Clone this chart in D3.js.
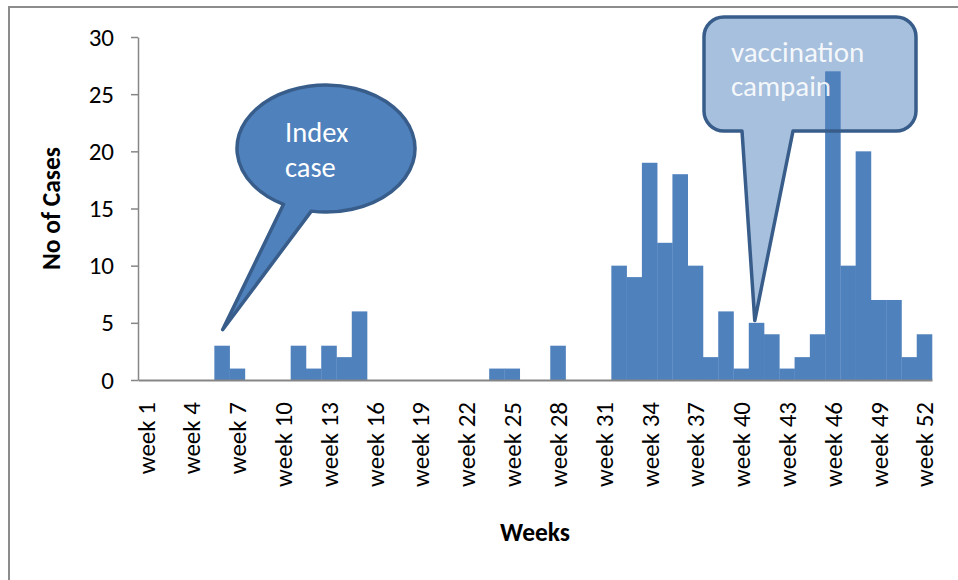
<!DOCTYPE html>
<html>
<head>
<meta charset="utf-8">
<script src="https://cdn.jsdelivr.net/npm/d3@7/dist/d3.min.js"></script>
<style>
  body { margin: 0; background: #fff; }
  text { font-family: Calibri, Carlito, Lato, sans-serif; }
</style>
</head>
<body>
<div id="chart"></div>
<script>
// weekly cases
var weeks = [1, 2, 3, 4, 5, 6, 7, 8, 9, 10, 11, 12, 13, 14, 15, 16, 17, 18, 19, 20,
  21, 22, 23, 24, 25, 26, 27, 28, 29, 30, 31, 32, 33, 34, 35, 36, 37, 38, 39, 40,
  41, 42, 43, 44, 45, 46, 47, 48, 49, 50, 51, 52];
var cases = [0, 0, 0, 0, 0, 3, 1, 0, 0, 0, 3, 1, 3, 2, 6, 0, 0, 0, 0, 0,
  0, 0, 0, 1, 1, 0, 0, 3, 0, 0, 0, 10, 9, 19, 12, 18, 10, 2, 6, 1,
  5, 4, 1, 2, 4, 27, 10, 20, 7, 7, 2, 4];
var labelWeeks = [1, 4, 7, 10, 13, 16, 19, 22, 25, 28, 31, 34, 37, 40, 43, 46, 49, 52];
var yTicks = [0, 5, 10, 15, 20, 25, 30];

var width = 958,
  height = 580;
var plotL = 138, plotR = 932, plotT = 37, plotB = 380;

var svg = d3.select("#chart")
  .append("svg")
  .attr("width", width)
  .attr("height", height);

svg.append("rect")
  .attr("width", width).attr("height", height)
  .attr("fill", "#fff");

// outer frame of the chart object
svg.append("rect")
  .attr("x", 9).attr("y", 7)
  .attr("width", 1000).attr("height", 700)
  .attr("fill", "none")
  .attr("stroke", "#8c8c8c")
  .attr("stroke-width", 2);

var x = d3.scaleBand()
  .domain(weeks)
  .range([plotL, plotR])
  .padding(0);

var y = d3.scaleLinear()
  .domain([0, 30])
  .range([plotB, plotT]);

// bars
svg.selectAll(".bar")
  .data(weeks)
  .enter().append("rect")
  .attr("class", "bar")
  .attr("x", function (d) { return x(d); })
  .attr("width", x.bandwidth() + 0.3)
  .attr("y", function (d, i) { return y(cases[i]); })
  .attr("height", function (d, i) { return y(0) - y(cases[i]); })
  .attr("fill", "#4f81bd");

// y axis
var yAxis = svg.append("g")
  .attr("transform", "translate(" + plotL + ",0)")
  .call(d3.axisLeft(y).tickValues(yTicks).tickSize(7).tickSizeOuter(0).tickPadding(17));
yAxis.select(".domain").attr("stroke", "#868686").attr("stroke-width", 1.5);
yAxis.selectAll(".tick line").attr("stroke", "#868686").attr("stroke-width", 1.5);
yAxis.selectAll("text")
  .attr("fill", "#000")
  .style("font-size", "25px");

// x axis
var xAxis = svg.append("g")
  .attr("transform", "translate(0," + plotB + ")")
  .call(d3.axisBottom(x).tickValues(labelWeeks).tickSize(0).tickSizeOuter(0)
    .tickFormat(function (d) { return "week " + d; }));
xAxis.select(".domain").attr("stroke", "#868686").attr("stroke-width", 2);
xAxis.selectAll("text")
  .attr("transform", "rotate(-90)")
  .attr("x", -22)
  .attr("y", 0)
  .attr("dy", "0.36em")
  .style("text-anchor", "end")
  .attr("fill", "#000")
  .style("font-size", "25px");

// axis titles
svg.append("text")
  .attr("transform", "translate(60," + ((plotT + plotB) / 2) + ") rotate(-90)")
  .attr("text-anchor", "middle")
  .style("font-size", "25.5px")
  .style("font-weight", "bold")
  .text("No of Cases");

svg.append("text")
  .attr("x", (plotL + plotR) / 2)
  .attr("y", 541)
  .attr("text-anchor", "middle")
  .style("font-size", "25.5px")
  .style("font-weight", "bold")
  .text("Weeks");

// "Index case" callout (oval with a tail)
var ov = { cx: 326, cy: 148.5, rx: 89, ry: 63.5 };
var tip1 = [x(7) - 7, y(4.4)];
var a1 = 118.5 * Math.PI / 180, a2 = 99.5 * Math.PI / 180;
var p1 = [ov.cx + ov.rx * Math.cos(a1), ov.cy + ov.ry * Math.sin(a1)];
var p2 = [ov.cx + ov.rx * Math.cos(a2), ov.cy + ov.ry * Math.sin(a2)];
svg.append("path")
  .attr("d", "M" + p1 + " A" + ov.rx + "," + ov.ry + " 0 1 1 " + p2 + " L" + tip1 + " Z")
  .attr("fill", "#4f81bd")
  .attr("stroke", "#385d8a")
  .attr("stroke-width", 3.5)
  .attr("stroke-linejoin", "round");

svg.append("text")
  .attr("x", 285).attr("y", 142)
  .attr("fill", "#fff")
  .style("font-size", "28.5px")
  .text("Index");
svg.append("text")
  .attr("x", 285).attr("y", 177)
  .attr("fill", "#fff")
  .style("font-size", "28.5px")
  .text("case");

// "vaccination campain" callout (rounded box with a tail)
var bx0 = 704, by0 = 17, bx1 = 916, by1 = 131, r = 20;
var tip2 = [x(41) + 6, y(5.2)];
var ta = 742, tb = 793;
var boxPath = "M" + (bx0 + r) + "," + by0 +
  " H" + (bx1 - r) +
  " A" + r + "," + r + " 0 0 1 " + bx1 + "," + (by0 + r) +
  " V" + (by1 - r) +
  " A" + r + "," + r + " 0 0 1 " + (bx1 - r) + "," + by1 +
  " H" + tb +
  " L" + tip2 +
  " L" + ta + "," + by1 +
  " H" + (bx0 + r) +
  " A" + r + "," + r + " 0 0 1 " + bx0 + "," + (by1 - r) +
  " V" + (by0 + r) +
  " A" + r + "," + r + " 0 0 1 " + (bx0 + r) + "," + by0 + " Z";

svg.append("path")
  .attr("d", boxPath)
  .attr("fill", "#4f81bd")
  .attr("fill-opacity", 0.5)
  .attr("stroke", "#385d8a")
  .attr("stroke-width", 3.5)
  .attr("stroke-linejoin", "round");

svg.append("text")
  .attr("x", 731).attr("y", 62)
  .attr("fill", "#fff")
  .attr("fill-opacity", 0.9)
  .style("font-size", "29px")
  .text("vaccination");
svg.append("text")
  .attr("x", 731).attr("y", 96)
  .attr("fill", "#fff")
  .attr("fill-opacity", 0.9)
  .style("font-size", "29px")
  .text("campain");
</script>
</body>
</html>
